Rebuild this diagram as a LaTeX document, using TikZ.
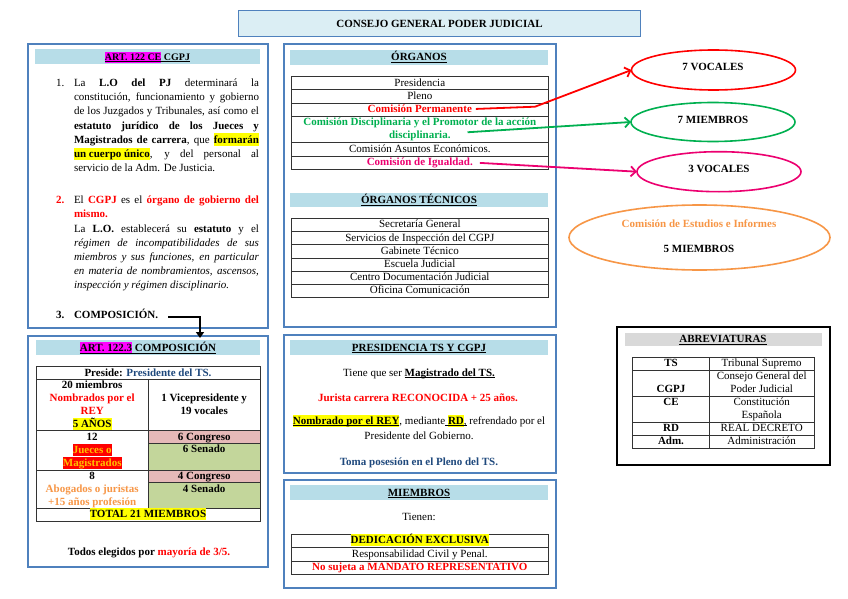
\documentclass[tikz,border=0pt]{standalone}
\usepackage{fontspec}
\setmainfont{Liberation Serif}
\usetikzlibrary{shapes.geometric,arrows.meta}
\definecolor{boxblue}{RGB}{79,129,189}
\definecolor{bandblue}{RGB}{183,221,232}
\definecolor{titlefill}{RGB}{219,238,244}
\definecolor{hlmag}{RGB}{255,0,255}
\definecolor{hlyel}{RGB}{255,255,0}
\definecolor{txred}{RGB}{255,0,0}
\definecolor{txgreen}{RGB}{0,176,80}
\definecolor{txpink}{RGB}{236,0,112}
\definecolor{txorange}{RGB}{247,150,70}
\definecolor{txgold}{RGB}{255,192,0}
\definecolor{dblue}{RGB}{31,73,125}
\definecolor{congfill}{RGB}{230,185,184}
\definecolor{senfill}{RGB}{195,214,155}
\definecolor{grayband}{RGB}{217,217,217}
\newsavebox{\ulbox}
\newcommand{\UL}[1]{\sbox{\ulbox}{#1}\usebox{\ulbox}\llap{\rule[-1.6pt]{\wd\ulbox}{0.6pt}}}
\newcommand{\HL}[2]{{\setlength{\fboxsep}{0pt}\colorbox{#1}{\rule[-0.22em]{0pt}{1.11em}#2}}}
\newcommand{\J}[1]{\makebox[185pt][s]{#1}}
\begin{document}
\begin{tikzpicture}[x=1pt,y=-1pt,
 every node/.style={inner sep=0pt,outer sep=0pt},
 txt/.style={font=\fontsize{11}{13}\selectfont},
 btxt/.style={font=\fontsize{11}{13}\selectfont\bfseries},
 cont/.style={draw=boxblue,line width=1.6pt,fill=white,anchor=north west},
 band/.style={fill=bandblue,anchor=north west},
 tline/.style={draw=black!80,line width=0.8pt},
 oval/.style={ellipse,line width=1.6pt,fill=white},
 conn/.style={line width=1.8pt,-{Straight Barb[length=5pt,width=10pt]}},
]
\useasboundingbox[fill=white] (0,0) rectangle (848,599);

% ---- title
\node[cont,fill=titlefill,minimum width=402,minimum height=26,btxt] (title) at (238.5,10.5) {CONSEJO GENERAL PODER JUDICIAL};

% ---- containers
\node[cont,minimum width=240,minimum height=284] (artbox) at (28,44) {};
\node[cont,minimum width=240,minimum height=231] (compbox) at (28,336) {};
\node[cont,minimum width=272,minimum height=283] (orgbox) at (284,44) {};
\node[cont,minimum width=272,minimum height=138] (presbox) at (284,335) {};
\node[cont,minimum width=272,minimum height=108] (miebox) at (284,480) {};
\node[cont,draw=black,line width=2.2pt,minimum width=213,minimum height=138] (abrbox) at (617,327) {};

% ---- header bands
\node[band,minimum width=225,minimum height=15] (artband) at (35,49) {};
\node[band,minimum width=224,minimum height=15] (compband) at (36,340) {};
\node[band,minimum width=258,minimum height=15] (orgband) at (290,50) {};
\node[band,minimum width=258,minimum height=14.5] (tecband) at (290,192.5) {};
\node[band,minimum width=258,minimum height=15] (presband) at (290,340) {};
\node[band,minimum width=258,minimum height=15] (mieband) at (290,485) {};
\node[band,fill=grayband,minimum width=197,minimum height=13.5] (abrband) at (625,332.5) {};

\node[btxt,anchor=base] (arth) at (147.5,60.5) {\fontsize{10}{12}\selectfont\UL{\HL{hlmag}{ART. 122 CE} CGPJ}};
\node[btxt,anchor=base] (comph) at (148,351.5) {\UL{\HL{hlmag}{ART. 122.3} COMPOSICIÓN}};
\node[btxt,anchor=base] (orgh) at (419,61) {\UL{ÓRGANOS}};
\node[btxt,anchor=base] (tech) at (419,203.5) {\UL{ÓRGANOS TÉCNICOS}};
\node[btxt,anchor=base] (presh) at (419,351) {\UL{PRESIDENCIA TS Y CGPJ}};
\node[btxt,anchor=base] (mieh) at (419,496) {\UL{MIEMBROS}};
\node[btxt,anchor=base] (abrh) at (723,342.5) {\UL{ABREVIATURAS}};

% ---- ART 122 text
\node[txt,anchor=base west] (n1) at (56,86.4) {1.};
\node[txt,anchor=base west] (a1) at (74,86.4) {\J{La \textbf{L.O del PJ} determinará la}};
\node[txt,anchor=base west] (a2) at (74,100.6) {\J{constitución, funcionamiento y gobierno}};
\node[txt,anchor=base west] (a3) at (74,114.8) {\J{de los Juzgados y Tribunales, así como el}};
\node[txt,anchor=base west] (a4) at (74,129.0) {\J{\textbf{estatuto jurídico de los Jueces y}}};
\node[txt,anchor=base west] (a5) at (74,143.2) {\J{\textbf{Magistrados de carrera}, que \HL{hlyel}{\textbf{formarán}}}};
\node[txt,anchor=base west] (a6) at (74,157.4) {\J{\HL{hlyel}{\textbf{un cuerpo único}}, y del personal al}};
\node[txt,anchor=base west] (a7) at (74,171.6) {servicio de la Adm. De Justicia.};

\node[btxt,anchor=base west,text=txred] (n2) at (56,203.7) {2.};
\node[txt,anchor=base west] (b1) at (74,203.7) {\J{El \textcolor{txred}{\textbf{CGPJ}} es el \textcolor{txred}{\textbf{órgano de gobierno del}}}};
\node[btxt,anchor=base west,text=txred] (b2) at (74,217.9) {mismo.};
\node[txt,anchor=base west] (b3) at (74,232.1) {\J{La \textbf{L.O.} establecerá su \textbf{estatuto} y el}};
\node[txt,anchor=base west] (b4) at (74,246.3) {\J{\textit{régimen de incompatibilidades de sus}}};
\node[txt,anchor=base west] (b5) at (74,260.5) {\J{\textit{miembros y sus funciones, en particular}}};
\node[txt,anchor=base west] (b6) at (74,274.7) {\J{\textit{en materia de nombramientos, ascensos,}}};
\node[txt,anchor=base west] (b7) at (74,288.9) {\textit{inspección y régimen disciplinario.}};

\node[btxt,anchor=base west] (n3) at (56,318.7) {3.};
\node[btxt,anchor=base west] (comp) at (74,318.7) {COMPOSICIÓN.};
\coordinate (ctip) at (200,338);
\draw[line width=1.8pt,-{Triangle[length=6pt,width=8pt]}] ([xshift=10pt,yshift=2pt]comp.base east) -| (ctip);

% ---- composition table
\fill[congfill] (148.3,430.7) rectangle (260,443);
\fill[senfill] (148.3,443) rectangle (260,470);
\fill[congfill] (148.3,470) rectangle (260,482.7);
\fill[senfill] (148.3,482.7) rectangle (260,508);
\draw[tline] (36,366.7) rectangle (260,521);
\foreach \yy in {379,430.7,470,508} \draw[tline] (36,\yy) -- (260,\yy);
\draw[tline] (148.3,379) -- (148.3,508);
\foreach \yy in {443,482.7} \draw[tline] (148.3,\yy) -- (260,\yy);

\node[btxt,anchor=base] (c0) at (148,376.3) {Preside: \textcolor{dblue}{Presidente del TS.}};
\node[btxt,anchor=base] (c1a) at (92.2,388.5) {20 miembros};
\node[btxt,anchor=base,text=txred] (c1b) at (92.2,401.5) {Nombrados por el};
\node[btxt,anchor=base,text=txred] (c1c) at (92.2,414.5) {REY};
\node[btxt,anchor=base] (c1d) at (92.2,427.5) {\HL{hlyel}{5 AÑOS}};
\node[btxt,anchor=base] (c1e) at (204.2,401.5) {1 Vicepresidente y};
\node[btxt,anchor=base] (c1f) at (204.2,414.5) {19 vocales};
\node[btxt,anchor=base] (c2a) at (92.2,440.3) {12};
\node[btxt,anchor=base,text=txgold] (c2b) at (92.2,453.3) {\HL{txred}{Jueces o}};
\node[btxt,anchor=base,text=txgold] (c2c) at (92.2,466.3) {\HL{txred}{Magistrados}};
\node[btxt,anchor=base] (c2d) at (204.2,440.3) {6 Congreso};
\node[btxt,anchor=base] (c2e) at (204.2,452.6) {6 Senado};
\node[btxt,anchor=base] (c3a) at (92.2,479.3) {8};
\node[btxt,anchor=base,text=txorange] (c3b) at (92.2,492.3) {Abogados o juristas};
\node[btxt,anchor=base,text=txorange] (c3c) at (92.2,505.3) {+15 años profesión};
\node[btxt,anchor=base] (c3d) at (204.2,479.6) {4 Congreso};
\node[btxt,anchor=base] (c3e) at (204.2,492.3) {4 Senado};
\node[btxt,anchor=base] (c4) at (148,517.6) {\HL{hlyel}{TOTAL 21 MIEMBROS}};
\node[btxt,anchor=base] (todos) at (149,555.3) {Todos elegidos por \textcolor{txred}{mayoría de 3/5.}};

% ---- ORGANOS table
\draw[tline] (291.7,76.7) rectangle (548,169.1);
\foreach \yy in {89.9,103.1,116.3,142.7,155.9} \draw[tline] (291.7,\yy) -- (548,\yy);
\node[txt,anchor=base] (o1) at (419.8,86.3) {Presidencia};
\node[txt,anchor=base] (o2) at (419.8,99.5) {Pleno};
\node[btxt,anchor=base,text=txred] (cp) at (419.8,112.7) {Comisión Permanente};
\node[btxt,anchor=base,text=txgreen] (cd1) at (419.8,125.9) {Comisión Disciplinaria y el Promotor de la acción};
\node[btxt,anchor=base,text=txgreen] (cd2) at (419.8,138.9) {disciplinaria.};
\node[txt,anchor=base] (o5) at (419.8,152.3) {Comisión Asuntos Económicos.};
\node[btxt,anchor=base,text=txpink] (ci) at (419.8,165.5) {Comisión de Igualdad.};

% ---- ORGANOS TECNICOS table
\draw[tline] (291.7,218.3) rectangle (548,297.5);
\foreach \yy in {231.5,244.7,257.9,271.1,284.3} \draw[tline] (291.7,\yy) -- (548,\yy);
\node[txt,anchor=base] (t1) at (419.8,227.9) {Secretaría General};
\node[txt,anchor=base] (t2) at (419.8,241.1) {Servicios de Inspección del CGPJ};
\node[txt,anchor=base] (t3) at (419.8,254.3) {Gabinete Técnico};
\node[txt,anchor=base] (t4) at (419.8,267.5) {Escuela Judicial};
\node[txt,anchor=base] (t5) at (419.8,280.7) {Centro Documentación Judicial};
\node[txt,anchor=base] (t6) at (419.8,293.9) {Oficina Comunicación};

% ---- PRESIDENCIA
\node[txt,anchor=base] (p1) at (419,376.3) {Tiene que ser \UL{\textbf{Magistrado del TS.}}};
\node[btxt,anchor=base,text=txred] (p2) at (418,401.6) {Jurista carrera RECONOCIDA + 25 años.};
\node[txt,anchor=base] (p3) at (419,424.3) {\UL{\HL{hlyel}{\textbf{Nombrado por el REY}}}, mediante\UL{ \HL{hlyel}{\textbf{RD}},} refrendado por el};
\node[txt,anchor=base] (p4) at (419,439.6) {Presidente del Gobierno.};
\node[btxt,anchor=base,text=dblue] (p5) at (419,465.3) {Toma posesión en el Pleno del TS.};

% ---- MIEMBROS
\node[txt,anchor=base] (m0) at (419,520.3) {Tienen:};
\draw[tline] (291.7,534) rectangle (548,574.5);
\foreach \yy in {547.5,561} \draw[tline] (291.7,\yy) -- (548,\yy);
\node[btxt,anchor=base] (m1) at (419.8,543.6) {\HL{hlyel}{DEDICACIÓN EXCLUSIVA}};
\node[txt,anchor=base] (m2) at (419.8,557.1) {Responsabilidad Civil y Penal.};
\node[btxt,anchor=base,text=txred] (m3) at (419.8,570.6) {No sujeta a MANDATO REPRESENTATIVO};

% ---- ABREVIATURAS table
\draw[tline] (632.7,357.3) rectangle (814,448.3);
\foreach \yy in {370.3,396.3,422.3,435.3} \draw[tline] (632.7,\yy) -- (814,\yy);
\draw[tline] (709.3,357.3) -- (709.3,448.3);
\node[btxt,anchor=base] (ab1) at (671,366.9) {TS};
\node[btxt,anchor=base] (ab2) at (671,392.9) {CGPJ};
\node[btxt,anchor=base] (ab3) at (671,405.9) {CE};
\node[btxt,anchor=base] (ab4) at (671,431.9) {RD};
\node[btxt,anchor=base] (ab5) at (671,444.9) {Adm.};
\node[txt,anchor=base] (ad1) at (761.7,366.9) {Tribunal Supremo};
\node[txt,anchor=base] (ad2) at (761.7,379.9) {Consejo General del};
\node[txt,anchor=base] (ad2b) at (761.7,392.9) {Poder Judicial};
\node[txt,anchor=base] (ad3) at (761.7,405.9) {Constitución};
\node[txt,anchor=base] (ad3b) at (761.7,418.9) {Española};
\node[txt,anchor=base] (ad4) at (761.7,431.9) {REAL DECRETO};
\node[txt,anchor=base] (ad5) at (761.7,444.9) {Administración};

% ---- ellipses
\node[oval,draw=txred,minimum width=164,minimum height=40] (v7) at (713.5,70) {};
\node[btxt,anchor=base] (v7t) at (713,70.3) {7 VOCALES};
\node[oval,draw=txgreen,minimum width=164,minimum height=39] (m7) at (713,122) {};
\node[btxt,anchor=base] (m7t) at (713,123.6) {7 MIEMBROS};
\node[oval,draw=txpink,minimum width=164,minimum height=40] (v3) at (719,171.7) {};
\node[btxt,anchor=base] (v3t) at (719,172) {3 VOCALES};
\node[oval,draw=txorange,minimum width=261,minimum height=65] (cei) at (699.5,237.5) {};
\node[btxt,anchor=base,text=txorange] (ceit) at (699,227.6) {Comisión de Estudios e Informes};
\node[btxt,anchor=base] (ceim) at (699,252.6) {5 MIEMBROS};

% ---- connectors
\coordinate (rbend) at (535,106.7);
\draw[conn,draw=txred] ([xshift=4pt]cp.east) -- (rbend) -- (v7.west);
\draw[conn,draw=txgreen] ([xshift=17pt,yshift=4pt]cd2.east) -- (m7.west);
\draw[conn,draw=txpink] ([xshift=7pt]ci.east) -- (v3.west);
\end{tikzpicture}
\end{document}
